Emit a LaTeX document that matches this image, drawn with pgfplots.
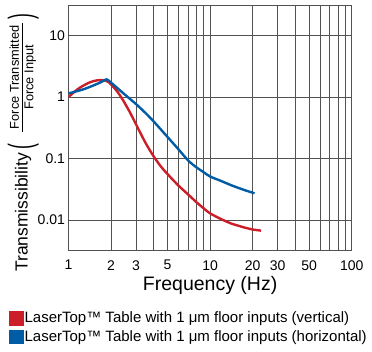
\documentclass[border=0pt]{standalone}
\usepackage{fontspec}
\setmainfont{Liberation Sans}
\usepackage{pgfplots}
\pgfplotsset{compat=1.18}
\definecolor{cred}{RGB}{204,30,40}
\definecolor{cblue}{RGB}{0,92,164}
\begin{document}
\begin{tikzpicture}
\begin{loglogaxis}[
  at={(0pt,0pt)}, anchor=south west,
  scale only axis, width=283.2pt, height=245.7pt,
  xmin=1, xmax=100, ymin=0.00316, ymax=31.6,
  xtick={1,2,3,5,10,20,30,50,100},
  xticklabels={1,2,3,5,10,20,30,50,100},
  minor xtick={4,6,7,8,9,40,60,70,80,90},
  ytick={0.01,0.1,1,10},
  yticklabels={0.01,0.1,1,10},
  minor ytick={},
  xmajorgrids, xminorgrids, ymajorgrids,
  major tick length=0pt, minor tick length=0pt,
  major grid style={black!68, line width=0.9pt},
  minor grid style={black!68, line width=0.9pt},
  axis line style={black!68, line width=0.9pt},
  tick label style={font=\fontsize{14}{16}\selectfont},
  x tick label style={yshift=-6pt},
  xlabel={Frequency (Hz)},
  xlabel style={font=\fontsize{19.5}{22}\selectfont, at={(axis description cs:0.5,0)}, anchor=north, yshift=-22pt},
  legend style={at={(-0.210,-0.245)}, anchor=north west, draw=none, fill=none, inner sep=0pt,
    font=\fontsize{15}{17}\selectfont, row sep=4.5pt,
    nodes={inner sep=1pt},
    /tikz/every even column/.style={column sep=2pt}},
  legend cell align=left,
  legend image code/.code={\fill[#1] (0pt,-6pt) rectangle (12pt,6pt);},
]
\addplot[cred, line width=2.4pt, smooth] coordinates {
(1.0,1.00) (1.1,1.22) (1.2,1.42) (1.3,1.58) (1.4,1.72) (1.5,1.82) (1.6,1.88) (1.7,1.90)
(1.8,1.87) (1.9,1.78) (2.0,1.60) (2.2,1.25) (2.4,0.93) (2.7,0.58) (3.0,0.36) (3.5,0.18)
(4.0,0.108) (4.5,0.074) (5.0,0.056) (6.0,0.036) (7.0,0.026) (8.0,0.0195) (9.0,0.0155)
(10,0.0128) (12,0.0103) (14,0.0088) (16,0.0080) (18,0.0074) (20,0.0070) (22.9,0.0067)};
\addlegendentry{LaserTop™ Table with 1 μm floor inputs (vertical)}
\addplot[cblue, line width=2.4pt, smooth] coordinates {
(1.0,1.15) (1.15,1.25) (1.3,1.36) (1.45,1.50) (1.6,1.65) (1.75,1.82) (1.86,1.95)
(2.0,1.72) (2.2,1.42) (2.5,1.10) (3.0,0.77) (3.5,0.55) (4.0,0.40) (5.0,0.225) (6.0,0.14)
(7.0,0.093) (8.0,0.072) (9.0,0.060) (10,0.051) (12,0.043) (14,0.037) (16,0.033) (18,0.030) (20.6,0.0272)};
\addlegendentry{LaserTop™ Table with 1 μm floor inputs (horizontal)}
\end{loglogaxis}
\node[rotate=90, anchor=base west, inner sep=0pt] at (-40.8pt,-21.3pt) {\fontsize{17.5}{20}\selectfont Transmissibility\kern3pt\raisebox{-4.2pt}{\scalebox{1}[1.9]{(}}\kern12pt$\vcenter{\hbox{\fontsize{12.8}{14}\selectfont\begin{tabular}{@{\kern3pt}c@{\kern3pt}}Force Transmitted\\[-1pt]\hline\rule{0pt}{10.9pt}Force Input\end{tabular}}}$\kern3pt\raisebox{-4.2pt}{\scalebox{1}[1.9]{)}}};
\pgfresetboundingbox
\path (-68.5pt,-100.3pt) rectangle (303.5pt,250.7pt);
\end{tikzpicture}
\end{document}
